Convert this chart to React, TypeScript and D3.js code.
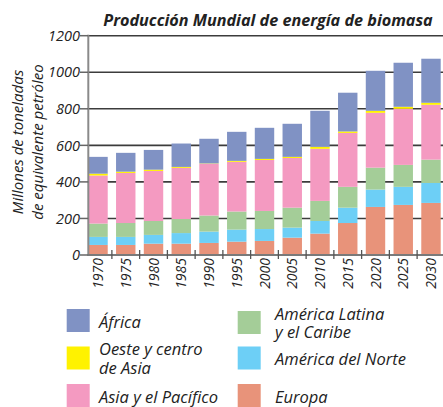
import React from 'react';
import * as d3 from 'd3';

const years = ['1970', '1975', '1980', '1985', '1990', '1995', '2000', '2005', '2010', '2015', '2020', '2025', '2030'];

// millones de toneladas equivalentes de petróleo, por región (de abajo arriba)
const europa = [55, 55, 62, 62, 66, 73, 77, 95, 117, 175, 263, 274, 285];
const norteAmerica = [44, 44, 48, 58, 62, 66, 65, 55, 69, 84, 95, 99, 109];
const americaLatina = [73, 76, 76, 77, 88, 99, 99, 109, 110, 114, 120, 120, 128];
const asiaPacifico = [263, 274, 274, 280, 283, 272, 279, 272, 285, 295, 300, 307, 300];
const oesteAsia = [10, 7, 7, 5, 2, 5, 6, 6, 11, 8, 11, 11, 11];
const africa = [92, 103, 108, 128, 135, 159, 170, 181, 197, 212, 219, 241, 241];

const yTicks = [0, 200, 400, 600, 800, 1000, 1200];

const series = [
  { key: 'europa', label: ['Europa'], values: europa, color: '#e8937a' },
  { key: 'norte', label: ['América del Norte'], values: norteAmerica, color: '#6dcff6' },
  { key: 'latina', label: ['América Latina', 'y el Caribe'], values: americaLatina, color: '#a4cd98' },
  { key: 'asia', label: ['Asia y el Pacífico'], values: asiaPacifico, color: '#f49ac1' },
  { key: 'oeste', label: ['Oeste y centro', 'de Asia'], values: oesteAsia, color: '#fff200' },
  { key: 'africa', label: ['África'], values: africa, color: '#8092c4' },
];

const legendOrder = [
  { key: 'africa', col: 0, row: 0 },
  { key: 'oeste', col: 0, row: 1 },
  { key: 'asia', col: 0, row: 2 },
  { key: 'latina', col: 1, row: 0 },
  { key: 'norte', col: 1, row: 1 },
  { key: 'europa', col: 1, row: 2 },
];

const W = 443;
const H = 407;
const left = 88.3;
const plotRight = 443;
const top = 35.7;
const bottom = 255;

const font = '"Open Sans", "Noto Sans", sans-serif';

export default function App() {
  const x = d3.scaleBand<string>().domain(years).range([left, 440.7]).paddingInner(0.3).paddingOuter(0);
  const y = d3.scaleLinear().domain([0, 1200]).range([bottom, top]);

  const rows = years.map((yr, i) => {
    const r: Record<string, number | string> = { year: yr };
    series.forEach(s => { r[s.key] = s.values[i]; });
    return r;
  });
  const stack = d3.stack<Record<string, number | string>>().keys(series.map(s => s.key));
  const stacked = stack(rows as any);

  const gap = x.step() - x.bandwidth();

  return (
    <svg width={W} height={H} style={{ position: 'absolute', left: 0, top: 0 }} fontFamily={font}>
      <rect width={W} height={H} fill="#fff" />
      <text x={268} y={26} textAnchor="middle" fontSize={16.2} fontWeight="bold" fontStyle="italic" fill="#222">
        Producción Mundial de energía de biomasa
      </text>

      {yTicks.filter(t => t > 0).map(t => (
        <line key={t} x1={left} x2={plotRight} y1={y(t)} y2={y(t)} stroke="#3c3c3c" strokeWidth={1.6} />
      ))}

      {stacked.map((layer, li) => (
        <g key={series[li].key} fill={series[li].color}>
          {layer.map((d, i) => (
            <rect key={i} x={x(years[i])} width={x.bandwidth()} y={y(d[1])} height={y(d[0]) - y(d[1])} />
          ))}
        </g>
      ))}

      <line x1={left} x2={left} y1={top - 1} y2={bottom + 1} stroke="#8a8a8a" strokeWidth={2} />
      <line x1={left} x2={plotRight} y1={bottom} y2={bottom} stroke="#7a7a7a" strokeWidth={2} />

      {yTicks.map(t => (
        <g key={t}>
          <line x1={80} x2={left} y1={y(t)} y2={y(t)} stroke="#666" strokeWidth={1.5} />
          <text x={80} y={y(t)} dy="0.36em" textAnchor="end" fontSize={14.5} fontStyle="italic" fill="#222">{t}</text>
        </g>
      ))}

      {years.slice(1).map(yr => (
        <line key={yr} x1={(x(yr) as number) - gap / 2} x2={(x(yr) as number) - gap / 2} y1={250} y2={259} stroke="#555" strokeWidth={1.3} />
      ))}

      {years.map(yr => {
        const cx = (x(yr) as number) + x.bandwidth() / 2;
        return (
          <text key={yr} transform={`translate(${cx},258) rotate(-90)`} dy="0.36em" textAnchor="end" fontSize={14} fontStyle="italic" fill="#222">{yr}</text>
        );
      })}

      <g transform="translate(18,142) rotate(-90)" fontSize={15} fontStyle="italic" fill="#222" textAnchor="middle">
        <text y={0} dy="0.36em">Millones de toneladas</text>
        <text y={20} dy="0.36em">de equivalente petróleo</text>
      </g>

      {legendOrder.map(item => {
        const s = series.find(d => d.key === item.key)!;
        const sx = item.col === 0 ? 66.7 : 237.7;
        const tx = item.col === 0 ? 99 : 275;
        const sy = [309, 346.5, 384][item.row] + (item.col === 1 && item.row === 0 ? 2 : 0);
        const baseY = s.label.length === 2 ? [sy + 8.5, sy + 27] : [sy + 18.5];
        return (
          <g key={item.key}>
            <rect x={sx} y={sy} width={23} height={23} fill={s.color} />
            {s.label.map((l, i) => (
              <text key={i} x={tx} y={baseY[i]} fontSize={16.5} fontStyle="italic" fill="#222">{l}</text>
            ))}
          </g>
        );
      })}
    </svg>
  );
}
